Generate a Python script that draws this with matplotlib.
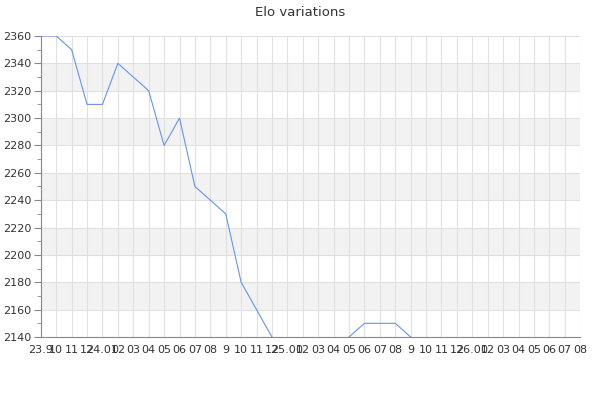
import numpy as np
import matplotlib
matplotlib.use('Agg')
import matplotlib.pyplot as plt
from matplotlib.ticker import MultipleLocator

# etiquetas del eje x (un tick por mes)
meses = ['23.9', '10', '11', '12',
         '24.01', '02', '03', '04', '05', '06', '07', '08', '9', '10', '11', '12',
         '25.01', '02', '03', '04', '05', '06', '07', '08', '9', '10', '11', '12',
         '26.01', '02', '03', '04', '05', '06', '07', '08']

# elo mensual (lo que queda bajo 2140 no se ve en el original, estimado)
elo = [2360, 2360, 2350, 2310, 2310, 2340, 2330, 2320, 2280, 2300,
       2250, 2240, 2230, 2180, 2160, 2140, 2130, 2125, 2130, 2135,
       2140, 2150, 2150, 2150, 2140, 2135, 2130, 2130, 2125, 2125,
       2120, 2120, 2120, 2115, 2115, 2110]

x = np.arange(len(meses))

fig = plt.figure(figsize=(6, 4), dpi=100)
ax = fig.add_axes([0.068, 0.1575, 0.899, 0.7525])

ymin, ymax = 2140, 2360
ax.set_xlim(0, len(meses) - 1)
ax.set_ylim(ymin, ymax)

# bandas grises alternadas
for y0 in range(2160, 2360, 40):
    ax.axhspan(y0, y0 + 20, color='#f2f2f2', zorder=0, lw=0)

ax.plot(x, elo, color='#6495ed', lw=0.8, zorder=3)

ax.set_xticks(x)
ax.set_xticklabels(meses)
ax.yaxis.set_major_locator(MultipleLocator(20))
ax.yaxis.set_minor_locator(MultipleLocator(10))

ax.grid(True, which='major', color='#e0e0e0', lw=0.8, zorder=1)
ax.set_axisbelow(True)

for s in ['top', 'right']:
    ax.spines[s].set_visible(False)
ax.spines['left'].set_color('#888888')
ax.spines['bottom'].set_color('#888888')

ax.tick_params(axis='x', length=0, pad=6, labelsize=8, labelcolor='#333333')
ax.tick_params(axis='y', which='major', length=5, color='#888888', labelsize=8,
               labelcolor='#333333', pad=2)
ax.tick_params(axis='y', which='minor', length=3, color='#888888')

fig.suptitle('Elo variations', y=0.985, fontsize=9.5, color='#333333')

fig.savefig('out.png', dpi=100)
